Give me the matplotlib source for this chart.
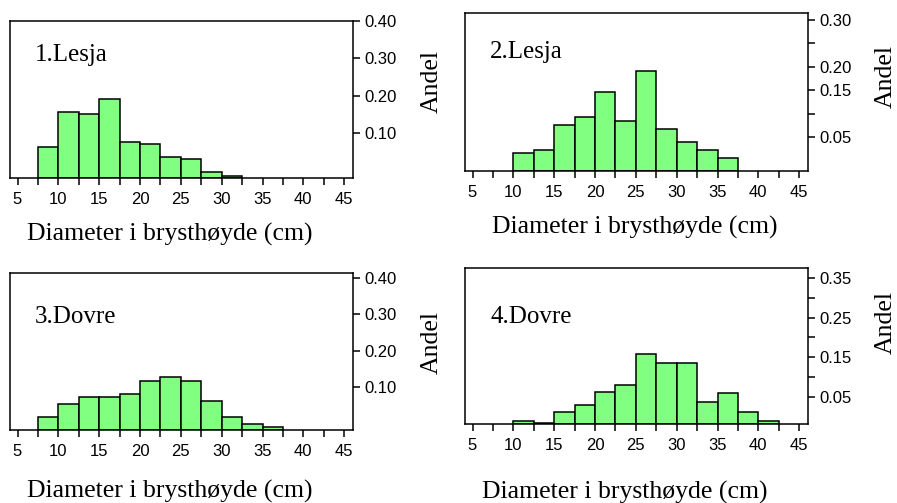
import numpy as np
import matplotlib.pyplot as plt

# klassegrenser (cm) og andel per klasse
bins_1 = [7.5, 10, 12.5, 15, 17.5, 20, 22.5, 25, 27.5, 30]
andel_1 = [0.084, 0.177, 0.172, 0.212, 0.096, 0.092, 0.057, 0.052, 0.016, 0.006]

bins_2 = [10, 12.5, 15, 17.5, 20, 22.5, 25, 27.5, 30, 32.5, 35]
andel_2 = [0.037, 0.043, 0.097, 0.114, 0.167, 0.106, 0.212, 0.089, 0.061, 0.043, 0.026]

bins_3 = [7.5, 10, 12.5, 15, 17.5, 20, 22.5, 25, 27.5, 30, 32.5, 35]
andel_3 = [0.037, 0.073, 0.091, 0.091, 0.101, 0.137, 0.147, 0.137, 0.081, 0.037, 0.018, 0.009]

bins_4 = [10, 12.5, 15, 17.5, 20, 22.5, 25, 27.5, 30, 32.5, 35, 37.5, 40]
andel_4 = [0.009, 0.003, 0.031, 0.048, 0.082, 0.099, 0.178, 0.156, 0.156, 0.057, 0.078, 0.031, 0.009]

titles = ["1.Lesja", "2.Lesja", "3.Dovre", "4.Dovre"]
x_ticks = [5, 10, 15, 20, 25, 30, 35, 40, 45]
y_ticks_1 = [0.10, 0.20, 0.30, 0.40]
y_labels_1 = ["0.10", "0.20", "0.30", "0.40"]
y_ticks_2 = [0.05, 0.10, 0.15, 0.20, 0.25, 0.30]
y_labels_2 = ["0.05", "", "0.15", "0.20", "", "0.30"]
y_ticks_4 = [0.05, 0.10, 0.15, 0.20, 0.25, 0.30, 0.35]
y_labels_4 = ["0.05", "", "0.15", "", "0.25", "", "0.35"]

W, H = 897, 503
fig = plt.figure(figsize=(W / 100, H / 100), dpi=100)

serif = ["Liberation Serif", "DejaVu Serif"]
sans = ["Liberation Sans", "DejaVu Sans"]


def px_axes(left, top, right, bottom):
    return fig.add_axes([left / W, 1 - bottom / H, (right - left) / W, (bottom - top) / H])


panels = [
    # (data, ylim, yticks, ylabels, axes box px, title pos, xlabel pos, Andel pos)
    (bins_1, andel_1, (-0.021, 0.400), y_ticks_1, y_labels_1, (10, 21, 353, 178), (0.073, 0.747), (27, 240.7), (431.7, 81.5)),
    (bins_2, andel_2, (-0.021, 0.314), y_ticks_2, y_labels_2, (465, 13.3, 808, 170.7), (0.073, 0.714), (491.7, 233.3), (885.5, 76.7)),
    (bins_3, andel_3, (-0.020, 0.414), y_ticks_1, y_labels_1, (10, 273.3, 353, 430), (0.073, 0.685), (27, 498), (431.7, 342.5)),
    (bins_4, andel_4, (-0.020, 0.375), y_ticks_4, y_labels_4, (465, 268.3, 808, 424.3), (0.073, 0.651), (481.7, 499), (886, 322.5)),
]

for i, (bins, andel, ylim, yt, yl, box, tpos, xpos, apos) in enumerate(panels):
    ax = px_axes(*box)
    # søylene tegnes fra bunnen av aksen
    ax.bar(bins, andel, width=2.5, align="edge", bottom=ylim[0],
           color="#80ff80", edgecolor="black", linewidth=1.1)
    ax.set_xlim(4.08, 46.08)
    ax.set_ylim(*ylim)
    ax.set_xticks(x_ticks)
    ax.set_xticklabels([str(v) for v in x_ticks], family=sans, fontsize=12)
    ax.set_xticks(np.arange(7.5, 45, 5), minor=True)
    ax.yaxis.tick_right()
    ax.set_yticks(yt)
    ax.set_yticklabels(yl, family=sans, fontsize=12)
    ax.tick_params(axis="both", which="both", direction="out", length=5, width=1.1)
    ax.tick_params(axis="y", pad=3.5)
    ax.tick_params(axis="x", pad=5)
    for s in ax.spines.values():
        s.set_linewidth(1.1)
    ax.text(tpos[0], tpos[1], titles[i], transform=ax.transAxes, family=serif,
            fontsize=18, ha="left", va="baseline")
    fig.text(xpos[0] / W, 1 - xpos[1] / H, "Diameter i brysthøyde (cm)", family=serif,
             fontsize=18.5, ha="left", va="baseline")
    fig.text(apos[0] / W, 1 - apos[1] / H, "Andel", family=serif, fontsize=18.5,
             rotation=90, ha="center", va="center")

fig.savefig("out.png", dpi=100)
